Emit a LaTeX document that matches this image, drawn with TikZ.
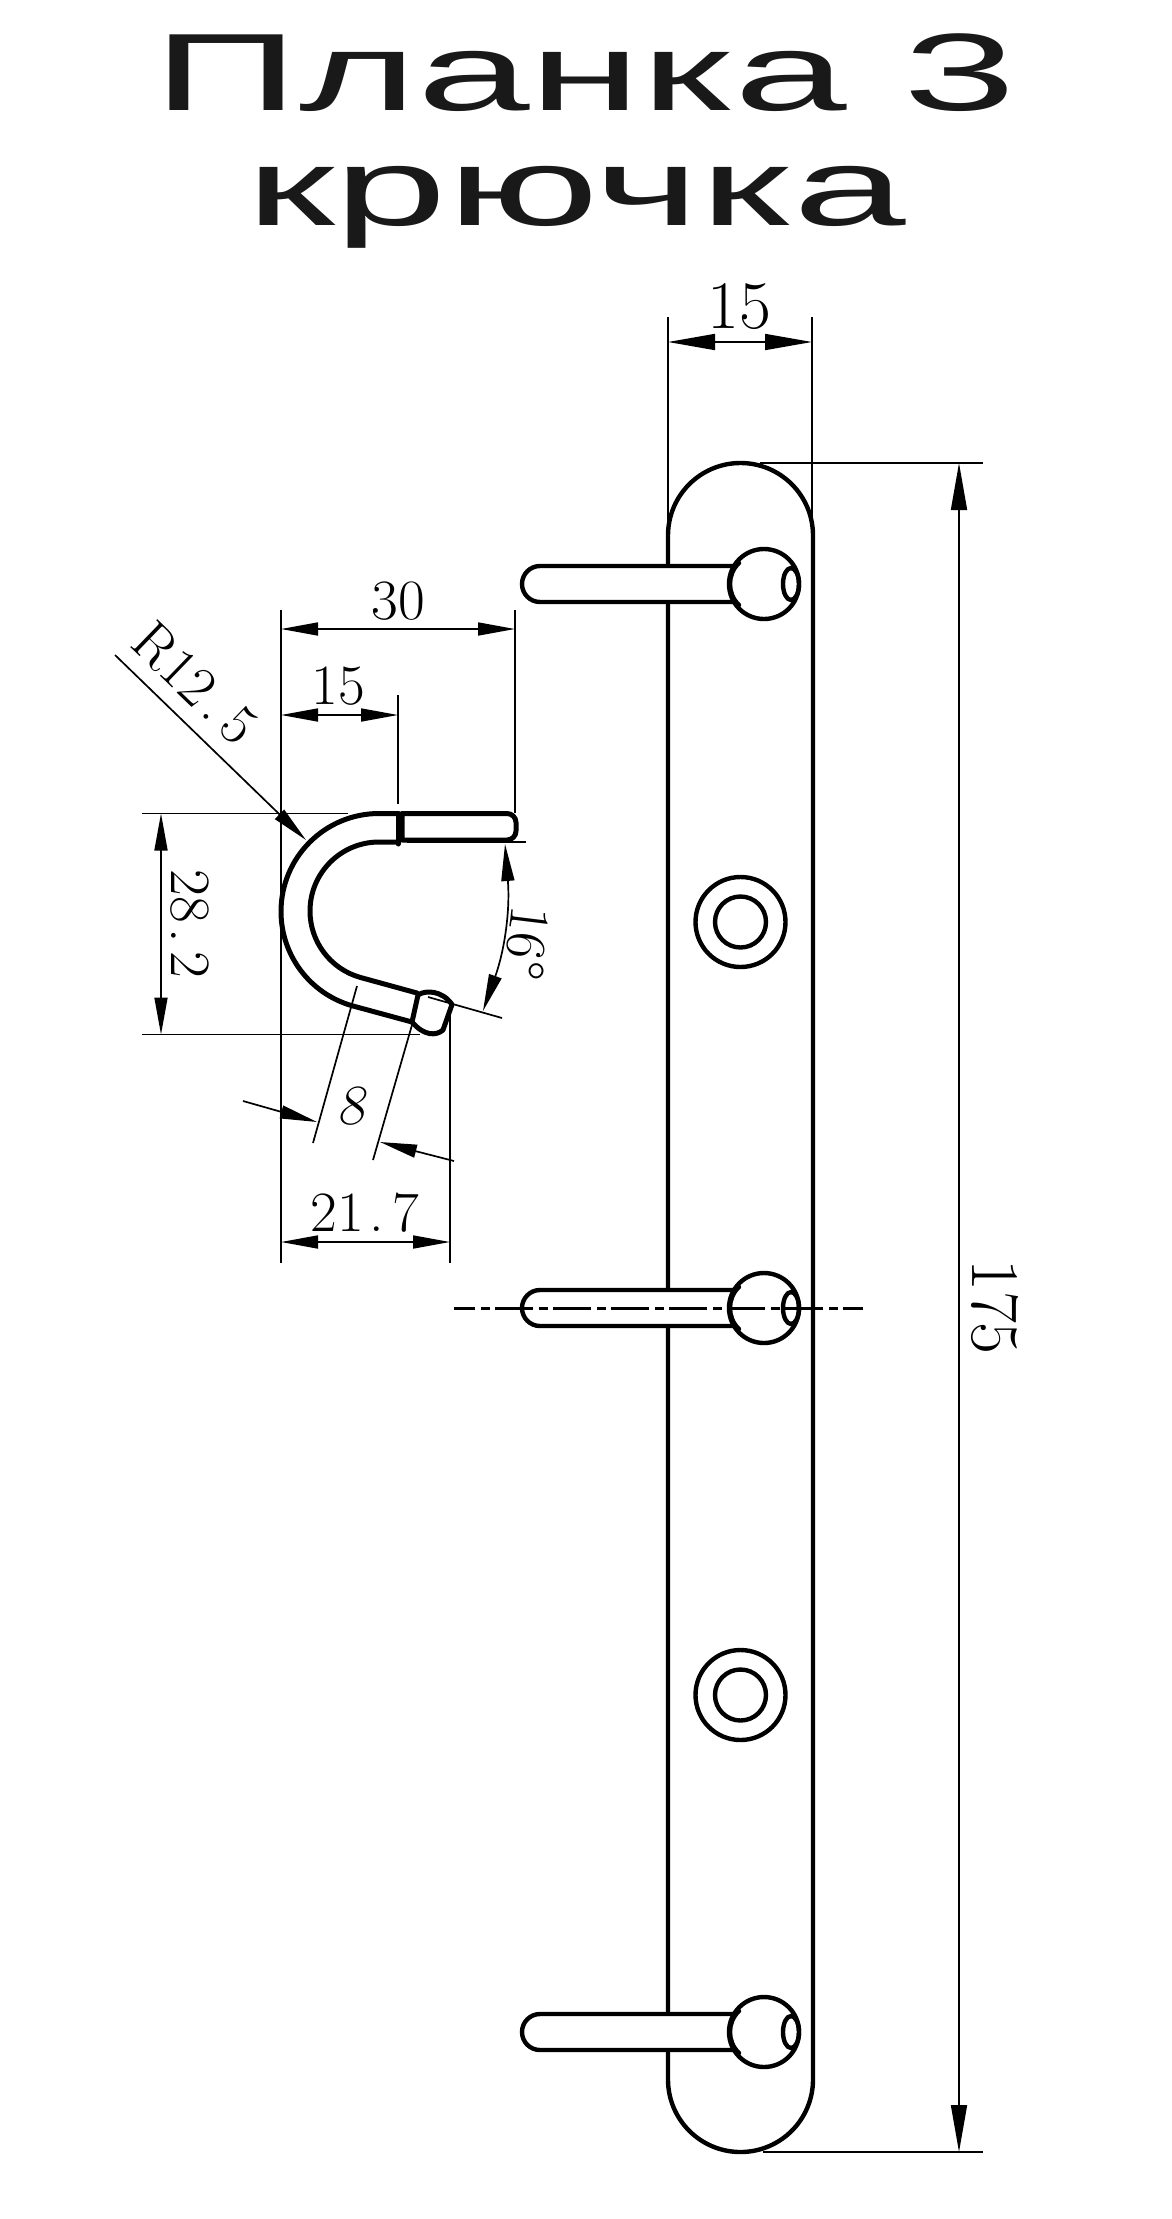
\documentclass[tikz,border=0pt]{standalone}
\usepackage{fontspec}
\setmainfont{Latin Modern Roman}
\newfontfamily\titlefont{Liberation Sans}
\usetikzlibrary{arrows.meta}

\tikzset{
  outline/.style={line width=4.4pt, line cap=round, line join=round},
  sideline/.style={line width=5pt, line cap=round, line join=round},
  dimline/.style={line width=1.7pt},
  bigdim/.style={dimline, {Triangle[length=47pt,width=16pt]}-{Triangle[length=47pt,width=16pt]}},
  smalldim/.style={dimline, {Triangle[length=37pt,width=13pt]}-{Triangle[length=37pt,width=13pt]}},
  onetip/.style={dimline, -{Triangle[length=37pt,width=13pt]}},
  titletext/.style={font=\titlefont\fontsize{110}{110}\selectfont, inner sep=0pt, anchor=base, xscale=1.84, transform shape, text=black!90},
  bigtext/.style={font=\fontsize{68}{70}\selectfont, inner sep=0pt, xscale=1.02, transform shape},
  smalltext/.style={font=\fontsize{57}{60}\selectfont, inner sep=0pt, xscale=1.02, transform shape}
}

\begin{document}
\begin{tikzpicture}[x=1pt,y=1pt]
 \useasboundingbox (0,0) rectangle (1171,-2219);

 \node[titletext] (title1) at (585,-110) {Планка 3};
 \node[titletext] (title2) at (576,-225) {крючка};

 % plate
 \draw[outline] (668,-535.5) arc (180:0:72.5) -- (813,-2079.5) arc (360:180:72.5) -- cycle;
 \foreach \sy in {-922,-1695}{
   \draw[outline] (740.5,\sy) circle (45);
   \draw[outline] (740.5,\sy) circle (25.5);
 }

 % hooks
 \foreach \hy in {-584,-1308,-2032}{
   \filldraw[outline, fill=white] (733,\hy+18) -- (540,\hy+18) arc (90:270:18) -- (733,\hy-18);
   \filldraw[outline, fill=white] (764,\hy) circle (35);
   \draw[outline] (739,\hy+21) .. controls (727,\hy+10) and (727,\hy-10) .. (739,\hy-21);
   \draw[outline] (791,\hy) ellipse (8 and 16);
 }

 % side view of hook
 \draw[sideline] (398,-813.5) -- (379,-813.5) arc (90:254:98) -- (412,-1022);
 \draw[sideline] (398,-842) -- (379,-842) arc (90:254:69) -- (417,-993);
 \draw[sideline] (402,-813.5) -- (507,-813.5) arc (90:0:9) -- (516,-831) arc (0:-90:9) -- (402,-840) -- cycle;
 \draw[sideline] (398,-813.5) -- (398,-844);
 \draw[sideline] (418,-995) .. controls (425,-990) and (442,-990) .. (452,-1004.5)
   -- (443,-1030) .. controls (436,-1036) and (424,-1036) .. (412,-1022) -- cycle;

 \coordinate (W0) at (668,-317);
 \coordinate (W1) at (668,-535);
 \coordinate (W2) at (812,-317);
 \coordinate (W3) at (812,-545);
 \coordinate (W4) at (668,-342);
 \coordinate (W5) at (812,-342);
 \coordinate (T0) at (760,-463);
 \coordinate (T1) at (983,-463);
 \coordinate (T2) at (763,-2152);
 \coordinate (T3) at (983,-2152);
 \coordinate (T4) at (959,-463);
 \coordinate (T5) at (959,-2152);

 \coordinate (A0) at (281,-610);
 \coordinate (A1) at (281,-1263);
 \coordinate (A2) at (515,-610);
 \coordinate (A3) at (515,-813);
 \coordinate (A4) at (281,-629);
 \coordinate (A5) at (515,-629);
 \coordinate (B0) at (398,-695);
 \coordinate (B1) at (398,-804);
 \coordinate (B2) at (281,-715);
 \coordinate (B3) at (398,-715);
 \coordinate (C0) at (142,-813.5);
 \coordinate (C1) at (348,-813.5);
 \coordinate (C2) at (142,-1034.5);
 \coordinate (C3) at (420,-1034.5);
 \coordinate (C4) at (161,-813.5);
 \coordinate (C5) at (161,-1034.5);
 \coordinate (D0) at (450,-1010);
 \coordinate (D1) at (450,-1263);
 \coordinate (D2) at (281,-1242);
 \coordinate (D3) at (450,-1242);
 \coordinate (E0) at (357,-986);
 \coordinate (E1) at (313,-1143);
 \coordinate (E2) at (412,-1025);
 \coordinate (E3) at (373,-1160);
 \coordinate (E4) at (243,-1101);
 \coordinate (E5) at (317,-1122);
 \coordinate (E6) at (454,-1161);
 \coordinate (E7) at (380,-1142);
 \coordinate (F0) at (407,-842);
 \coordinate (F1) at (526,-842);
 \coordinate (F2) at (428,-997);
 \coordinate (F3) at (502,-1018);
 \coordinate (F4) at (505,-844);
 \coordinate (F5) at (483,-1011);
 \coordinate (R0) at (115,-655);
 \coordinate (R1) at (306,-840);
 \coordinate (Z0) at (454,-1308);
 \coordinate (Z1) at (863,-1308);

 \path[dimline]
    (W0) edge (W1)
    (W2) edge (W3)
    (T0) edge (T1)
    (T2) edge (T3)
    (A0) edge (A1)
    (A2) edge (A3)
    (B0) edge (B1)
    (C0) edge (C1)
    (C2) edge (C3)
    (D0) edge (D1)
    (E0) edge (E1)
    (E2) edge (E3)
    (F0) edge (F1)
    (F2) edge (F3);

 \path[bigdim]
    (W4) edge (W5)
    (T4) edge (T5);

 \path[smalldim]
    (A4) edge (A5)
    (B2) edge (B3)
    (C4) edge (C5)
    (D2) edge (D3)
    (F4) edge[bend left=12] (F5);

 \path[onetip]
    (E4) edge (E5)
    (E6) edge (E7)
    (R0) edge (R1);

 % center line
 \path[line width=3pt, dash pattern=on 38pt off 6pt on 9pt off 5pt, dash phase=17pt]
    (Z0) edge (Z1);

 \node[bigtext] (w15) at (739,-307) {15};
 \node[rotate=-90, bigtext] (h175) at (995,-1307) {175};
 \node[smalltext] (s30) at (398,-601) {30};
 \node[smalltext] (s15) at (338,-686) {15};
 \node[rotate=-44, smalltext] (r125) at (195,-683) {R12\kern.1em.\kern.15em5};
 \node[rotate=-90, smalltext] (s282) at (190,-924) {28\kern.1em.\kern.15em2};
 \node[rotate=-97, smalltext] (s16) at (527,-943) {16°};
 \node[smalltext, xslant=.2] (s8) at (355,-1106) {8};
 \node[smalltext] (s217) at (365,-1213) {21\kern.1em.\kern.15em7};
\end{tikzpicture}
\end{document}
